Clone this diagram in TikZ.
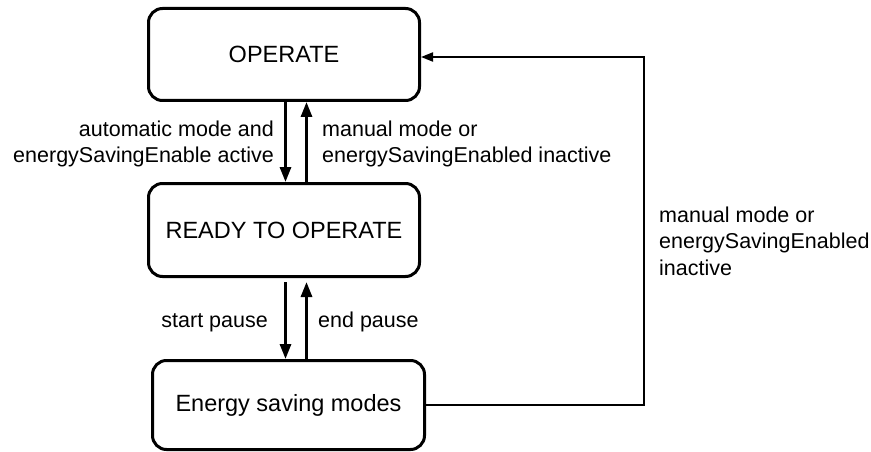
\documentclass[tikz,border=0pt]{standalone}
\usepackage{fontspec}
\setmainfont{Liberation Sans}
\usetikzlibrary{arrows.meta}
\tikzset{
  state/.style={draw=black, line width=3pt, rounded corners=14pt, inner sep=0pt,
    font=\fontsize{23.5}{28}\selectfont},
  lbl/.style={inner sep=0pt, font=\fontsize{21.5}{26}\selectfont},
  trans/.style={line width=3pt, -{Triangle[length=15pt,width=11pt]}},
  back/.style={line width=2pt, -{Triangle[length=12pt,width=9pt]}}
}
\begin{document}
\begin{tikzpicture}[x=1pt,y=-1pt]
\useasboundingbox[fill=white] (0,0) rectangle (871,452);
\node[state, minimum width=271pt, minimum height=92pt] (op) at (284,54.5) {OPERATE};
\node[state, minimum width=271pt, minimum height=93pt] (rd) at (284,230) {READY TO OPERATE};
\node[state, minimum width=272pt, minimum height=89pt] (en) at (288.5,405) {Energy saving modes};
% upper transitions
\draw[trans] ([xshift=1.5pt]op.south) -- ([xshift=1.5pt]rd.north);
\draw[trans] ([xshift=22.5pt]rd.north) -- ([xshift=22.5pt]op.south);
% lower transitions
\draw[trans] ([xshift=1.5pt,yshift=-4pt]rd.south) -- ([xshift=-3pt]en.north);
\draw[trans] ([xshift=18pt]en.north) -- ([xshift=22.5pt,yshift=-4pt]rd.south);
% back connector
\coordinate (tb) at (644,405);
\coordinate (tt) at (644,57);
\draw[back] (en.east) -- (tb) -- (tt) -- (op.east |- tt);
% labels
\node[lbl, anchor=base east] (l1a) at (274,136) {automatic mode and};
\node[lbl, anchor=base east] (l1b) at (274,162) {energySavingEnable active};
\node[lbl, anchor=base west] (l2a) at (322,136) {manual mode or};
\node[lbl, anchor=base west] (l2b) at (322,162) {energySavingEnabled inactive};
\node[lbl, anchor=base east] (l3) at (268,327) {start pause};
\node[lbl, anchor=base west] (l4) at (318,327) {end pause};
\node[lbl, anchor=base west] (l5a) at (659,222) {manual mode or};
\node[lbl, anchor=base west] (l5b) at (659,248) {energySavingEnabled};
\node[lbl, anchor=base west] (l5c) at (659,275) {inactive};
\end{tikzpicture}
\end{document}
